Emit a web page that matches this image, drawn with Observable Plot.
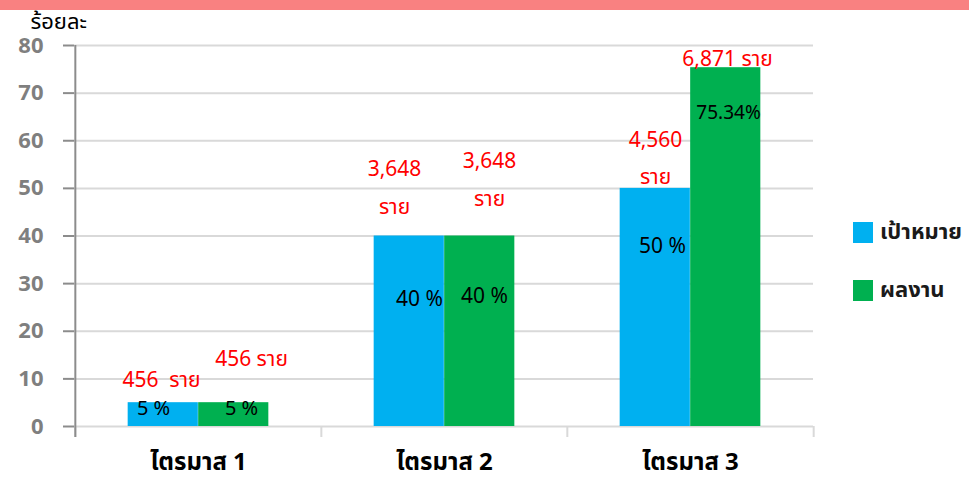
<!DOCTYPE html>
<html>
<head>
<meta charset="utf-8">
<script src="https://cdn.jsdelivr.net/npm/d3@7"></script>
<script src="https://cdn.jsdelivr.net/npm/@observablehq/plot@0.6"></script>
<style>
  html, body { margin: 0; padding: 0; background: #fff; }
  #wrap { position: relative; width: 969px; height: 481px; overflow: hidden; font-family: "Noto Sans Thai", Tahoma, "Noto Sans", "DejaVu Sans", sans-serif; }
  #topbar { position: absolute; left: 0; top: 0; width: 969px; height: 10px; background: #f98181; }
  #legend { position: absolute; left: 853px; top: 216px; font-weight: bold; font-size: 22px; color: #1a1a1a; }
  .li { display: flex; align-items: center; height: 33px; margin-bottom: 25px; white-space: nowrap; }
  .sw { width: 20px; height: 21px; margin-right: 7px; }
</style>
</head>
<body>
<div id="wrap">
  <div id="chart"></div>
  <div id="topbar"></div>
  <div id="legend"></div>
</div>
<script>
const quarters = ["ไตรมาส 1", "ไตรมาส 2", "ไตรมาส 3"];
const seriesNames = ["เป้าหมาย", "ผลงาน"];
const seriesColors = ["#00b0f0", "#00b050"];
const targetPct = [5, 40, 50];
const resultPct = [5, 40, 75.34];
const targetCountLabels = ["456  ราย", "3,648\nราย", "4,560\nราย"];
const resultCountLabels = ["456 ราย", "3,648\nราย", "6,871 ราย"];
const targetPctLabels = ["5 %", "40 %", "50 %"];
const resultPctLabels = ["5 %", "40 %", "75.34%"];
const yTicks = [0, 10, 20, 30, 40, 50, 60, 70, 80];
const yLabel = "ร้อยละ";

const rows = [];
quarters.forEach((q, i) => {
  rows.push({quarter: q, series: seriesNames[0], value: targetPct[i], count: targetCountLabels[i], pct: targetPctLabels[i]});
  rows.push({quarter: q, series: seriesNames[1], value: resultPct[i], count: resultCountLabels[i], pct: resultPctLabels[i]});
});

// label placement offsets (layout only)
const countOffsets = [[-37, -28], [53, -49], [-50, -53], [45, -61], [-35, -35], [37, -14]];
const pctOffsets = [[-45, 6], [43, 6], [-25, 63], [40, 60], [-28, 58], [38, 45]];
const pctSizes = [20, 20, 21, 21, 21, 19];

const W = 969, H = 481;
const mL = 74, mR = 156, mT = 45, mB = 55;
const band = (W - mL - mR) / quarters.length;
const barW = 70.5;
const outer = band / 2 - barW;
const font = '"Noto Sans Thai", Tahoma, "Noto Sans", "DejaVu Sans", sans-serif';

const countMarks = rows.map((r, i) => Plot.text([r], {
  x: "quarter", y: "value", text: "count",
  dx: countOffsets[i][0], dy: countOffsets[i][1],
  fill: "#ff0000", fontSize: 21, lineHeight: 1.8, fontFamily: font
}));
const pctMarks = rows.map((r, i) => Plot.text([r], {
  x: "quarter", y: "value", text: "pct",
  dx: pctOffsets[i][0], dy: pctOffsets[i][1],
  fill: "#000", fontSize: pctSizes[i], fontFamily: font
}));

const chart = Plot.plot({
  width: W, height: H,
  marginLeft: mL, marginRight: mR, marginTop: mT, marginBottom: mB,
  style: {fontFamily: font, background: "transparent"},
  x: {domain: quarters, padding: 0, label: null},
  y: {domain: [0, 80], label: null},
  color: {domain: seriesNames, range: seriesColors},
  marks: [
    Plot.gridY(yTicks, {stroke: "#d9d9d9", strokeWidth: 2, strokeOpacity: 1}),
    Plot.barY(rows.filter(d => d.series === seriesNames[0]), {
      x: "quarter", y: "value", fill: "series",
      insetLeft: outer, insetRight: band / 2
    }),
    Plot.barY(rows.filter(d => d.series === seriesNames[1]), {
      x: "quarter", y: "value", fill: "series",
      insetLeft: band / 2, insetRight: outer
    }),
    Plot.axisX({tickSize: 11, tickFormat: () => "", dx: -band / 2, stroke: "#d9d9d9", strokeWidth: 2, strokeOpacity: 1, label: null}),
    Plot.axisX([quarters[quarters.length - 1]], {tickSize: 11, tickFormat: () => "", dx: band / 2, stroke: "#d9d9d9", strokeWidth: 2, strokeOpacity: 1, label: null}),
    Plot.axisX([quarters[0]], {tickSize: 11, tickFormat: () => "", dx: -band / 2, stroke: "#8c8c8c", strokeWidth: 2, strokeOpacity: 1, label: null}),
    Plot.axisX({tickSize: 0, tickPadding: 26, fontSize: 24, fontWeight: "bold", fill: "#000", label: null}),
    Plot.ruleX([quarters[0]], {dx: -band / 2, y1: 0, y2: 80, stroke: "#8c8c8c", strokeWidth: 2}),
    Plot.axisY(yTicks, {tickSize: 11, tickPadding: 20, stroke: "#8c8c8c", strokeWidth: 2, strokeOpacity: 1, fontSize: 22, fontWeight: "bold", fill: "#7f7f7f", label: null}),
    Plot.text([yLabel], {frameAnchor: "top-left", dx: -44, dy: -24, textAnchor: "start", lineAnchor: "middle", fontSize: 22, fill: "#000", fontFamily: font}),
    ...countMarks,
    ...pctMarks
  ]
});
document.getElementById("chart").appendChild(chart);

const legend = document.getElementById("legend");
seriesNames.forEach((s, i) => {
  const item = document.createElement("div");
  item.className = "li";
  const sw = document.createElement("div");
  sw.className = "sw";
  sw.style.background = seriesColors[i];
  const t = document.createElement("span");
  t.textContent = s;
  item.appendChild(sw);
  item.appendChild(t);
  legend.appendChild(item);
});
</script>
</body>
</html>
